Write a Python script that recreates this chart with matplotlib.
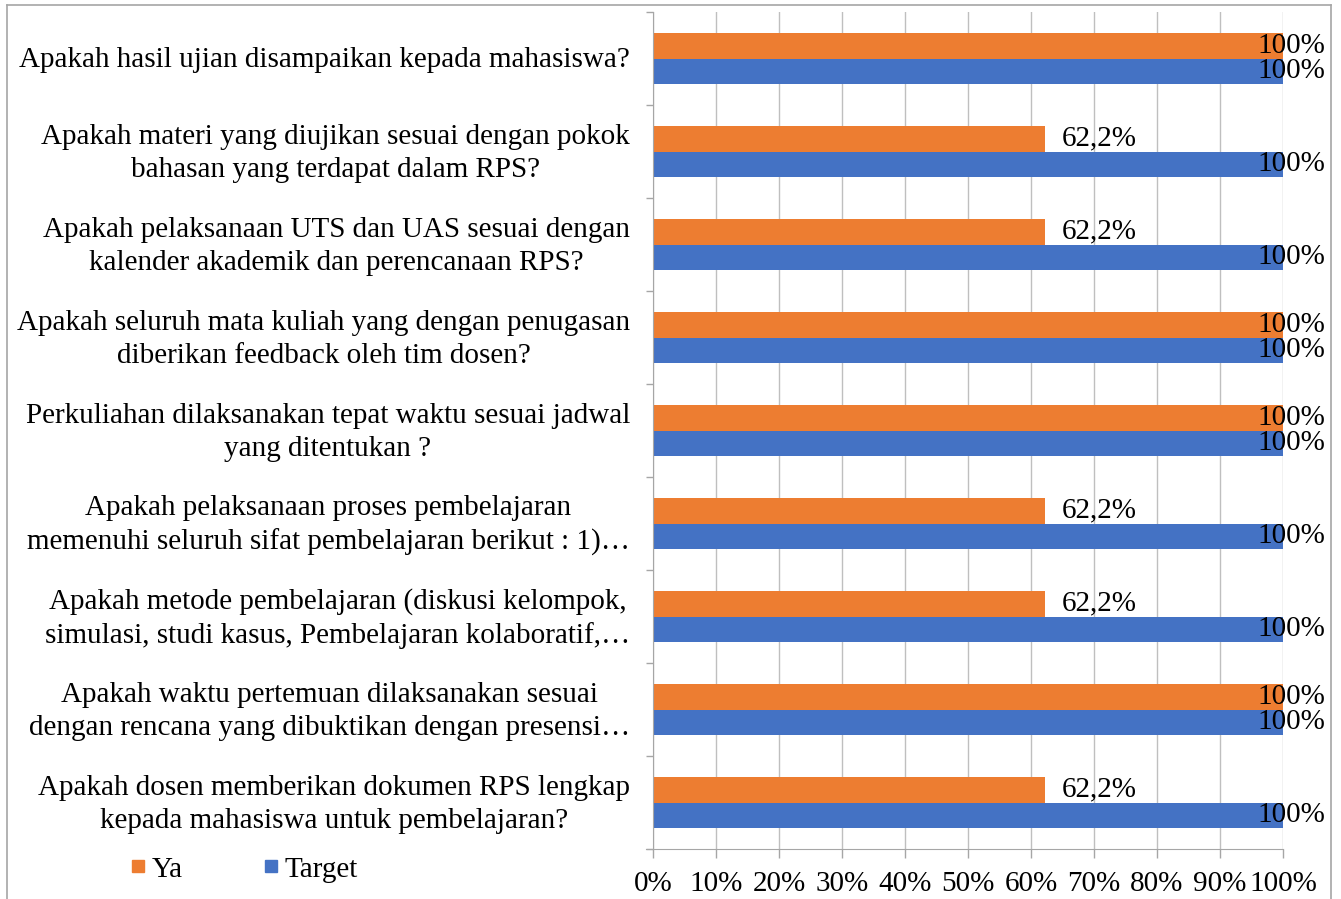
import numpy as np
import matplotlib.pyplot as plt
from matplotlib.lines import Line2D
from matplotlib.transforms import ScaledTranslation

plt.rcParams['font.family'] = ['Liberation Serif', 'DejaVu Serif']

# categories, top to bottom as shown
questions = [
    "Apakah hasil ujian disampaikan kepada mahasiswa?",
    "Apakah materi yang diujikan sesuai dengan pokok\nbahasan yang terdapat dalam RPS?",
    "Apakah pelaksanaan UTS dan UAS sesuai dengan\nkalender akademik dan perencanaan RPS?",
    "Apakah seluruh mata kuliah yang dengan penugasan\ndiberikan feedback oleh tim dosen?",
    "Perkuliahan dilaksanakan tepat waktu sesuai jadwal\nyang ditentukan ?",
    "Apakah pelaksanaan proses pembelajaran\nmemenuhi seluruh sifat pembelajaran berikut : 1)\u2026",
    "Apakah metode pembelajaran (diskusi kelompok,\nsimulasi, studi kasus, Pembelajaran kolaboratif,\u2026",
    "Apakah waktu pertemuan dilaksanakan sesuai\ndengan rencana yang dibuktikan dengan presensi\u2026",
    "Apakah dosen memberikan dokumen RPS lengkap\nkepada mahasiswa untuk pembelajaran?",
]
ya = [1.0, 0.622, 0.622, 1.0, 1.0, 0.622, 0.622, 1.0, 0.622]
target = [1.0, 1.0, 1.0, 1.0, 1.0, 1.0, 1.0, 1.0, 1.0]

c_ya = '#ED7D31'
c_target = '#4472C4'
fs = 21

fig = plt.figure(figsize=(13.41, 8.99), dpi=100)
ax = fig.add_axes([0.4869, 0.0556, 0.4698, 0.931])

y = np.arange(len(questions))
h = 0.277
ax.barh(y - h / 2, ya, height=h, color=c_ya, zorder=2)
ax.barh(y + h / 2, target, height=h, color=c_target, zorder=2)


def fmt(v):
    s = f"{v * 100:.1f}".replace('.', ',')
    if s.endswith(',0'):
        s = s[:-2]
    return s + '%'


for i in range(len(questions)):
    for v, off in ((ya[i], -h / 2), (target[i], h / 2)):
        ax.text(min(v + 0.027, 0.96), i + off, fmt(v), ha='left', va='center',
                fontsize=fs, zorder=3)

ax.set_xlim(0, 1)
ax.set_ylim(len(questions) - 0.5, -0.5)
ax.set_xticks(np.arange(0, 1.01, 0.1))
ax.set_xticklabels([f"{int(round(t * 100))}%" for t in np.arange(0, 1.01, 0.1)])
ax.set_yticks(y)
ax.set_yticklabels(questions, multialignment='center', linespacing=1.37)
ax.set_yticks(np.arange(-0.5, len(questions)), minor=True)

ax.tick_params(axis='y', which='major', length=0, pad=16.5, labelsize=fs)
ax.tick_params(axis='y', which='minor', length=5, color='#a6a6a6', width=1)
ax.tick_params(axis='x', length=6.5, color='#a6a6a6', width=1, pad=9.5, labelsize=fs)

# nudge the wrapped labels up a little so they sit centred like the original
for lab in ax.get_yticklabels():
    dy = 5 if '\n' in lab.get_text() else 2
    lab.set_transform(lab.get_transform() + ScaledTranslation(0, dy / 100, fig.dpi_scale_trans))

ax.grid(axis='x', color='#bfbfbf', linewidth=1, zorder=0)
for side in ('top', 'right'):
    ax.spines[side].set_visible(False)
for side in ('left', 'bottom'):
    ax.spines[side].set_color('#a6a6a6')
ax.spines['bottom'].set_bounds(-0.011, 1)

handles = [Line2D([], [], marker='s', linestyle='', color=c_ya, markersize=9),
           Line2D([], [], marker='s', linestyle='', color=c_target, markersize=9)]
fig.legend(handles, ['Ya', 'Target'], loc='center left', bbox_to_anchor=(0.077, 0.033),
           ncol=2, frameon=False, fontsize=fs, handlelength=0.6, handletextpad=0.15,
           columnspacing=2.75)

# outer chart frame
frame = dict(color='#a6a6a6', linewidth=1.2, transform=fig.transFigure)
fig.add_artist(Line2D([0.0052, 0.9925], [0.9944, 0.9944], **frame))
fig.add_artist(Line2D([0.0052, 0.0052], [0.0, 0.9944], **frame))
fig.add_artist(Line2D([0.9925, 0.9925], [0.0, 0.9944], **frame))

fig.savefig('out.png', dpi=100)
